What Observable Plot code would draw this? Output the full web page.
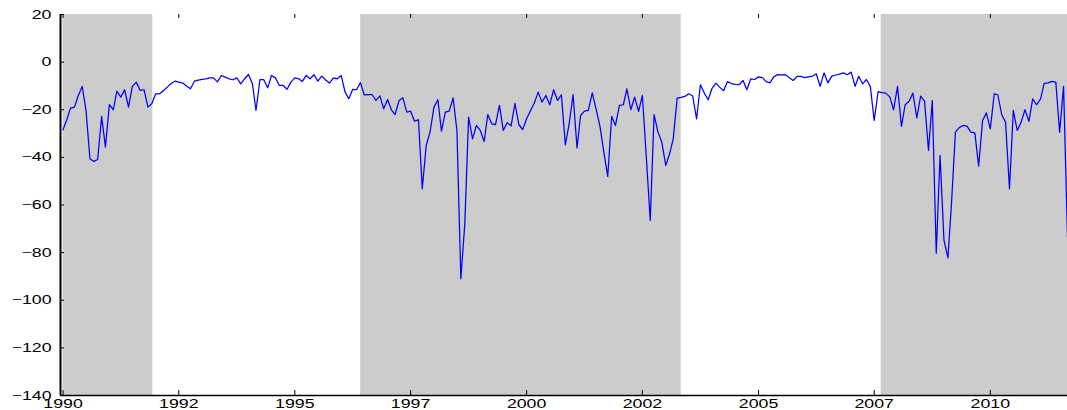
<!DOCTYPE html>
<html>
<head>
<meta charset="utf-8">
<script src="https://cdn.jsdelivr.net/npm/d3@7"></script>
<script src="https://cdn.jsdelivr.net/npm/@observablehq/plot@0.6"></script>
<style>
  html, body { margin: 0; padding: 0; background: #fff; }
  #chart svg { display: block; }
</style>
</head>
<body>
<div id="chart"></div>
<script>
// Monthly series, first value = January 1990
const firstMonth = "1990-01-01";
const values = [
  -28.4, -24.0, -19.3, -18.9, -14.0, -10.2, -20.3, -40.6, -41.7, -40.9,
  -22.8, -35.7, -17.8, -20.0, -12.2, -14.7, -11.6, -18.9, -10.2, -8.4,
  -11.9, -11.6, -18.9, -17.5, -13.3, -13.3, -12.0, -10.5, -9.0, -8.0,
  -8.4, -8.8, -10.1, -11.2, -8.0, -7.6, -7.2, -7.0, -6.6, -6.6,
  -8.3, -5.6, -6.3, -7.0, -7.4, -6.6, -9.1, -7.0, -5.2, -9.1,
  -20.3, -7.4, -7.4, -10.8, -5.6, -6.6, -9.8, -9.8, -11.4, -8.4,
  -6.6, -7.0, -8.1, -5.6, -7.0, -5.3, -8.0, -5.9, -7.5, -8.8,
  -6.6, -7.0, -5.6, -12.6, -15.4, -11.4, -11.6, -8.6, -13.8, -13.6,
  -13.6, -16.1, -14.2, -19.6, -15.7, -20.2, -22.0, -16.1, -15.0, -21.0,
  -20.6, -24.8, -24.2, -53.2, -35.0, -29.4, -18.9, -15.8, -29.0, -21.0,
  -20.6, -15.0, -28.7, -91.0, -67.9, -23.1, -32.2, -26.6, -28.7, -33.3,
  -22.0, -25.9, -26.2, -18.2, -28.7, -25.4, -26.8, -17.3, -26.3, -28.3,
  -23.8, -20.3, -17.3, -12.6, -16.8, -14.0, -17.9, -11.6, -16.1, -13.7,
  -34.7, -25.9, -13.6, -36.0, -22.4, -20.6, -20.3, -12.9, -19.6, -27.0,
  -38.0, -48.0, -22.8, -26.6, -18.2, -17.9, -11.2, -20.0, -14.7, -20.7,
  -14.0, -40.0, -66.5, -22.0, -29.4, -33.6, -43.4, -38.4, -32.2, -15.1,
  -14.8, -14.4, -13.3, -14.2, -23.8, -9.5, -13.0, -15.8, -11.0, -8.8,
  -10.5, -12.0, -8.2, -9.0, -9.3, -9.5, -7.7, -11.6, -7.0, -7.3,
  -6.2, -6.5, -8.2, -8.7, -6.2, -5.2, -5.4, -5.3, -6.6, -7.7,
  -6.0, -6.0, -6.5, -6.2, -5.9, -4.9, -10.2, -4.5, -8.7, -5.9,
  -5.4, -5.0, -4.5, -5.3, -4.2, -10.2, -5.9, -9.1, -7.3, -10.3,
  -24.5, -12.4, -12.8, -13.0, -14.6, -20.0, -10.2, -27.0, -17.9, -16.4,
  -13.0, -23.4, -14.3, -16.4, -37.1, -16.1, -80.3, -39.2, -74.9, -82.2,
  -59.5, -29.4, -27.5, -26.6, -26.9, -29.4, -29.7, -43.7, -24.5, -21.3,
  -28.0, -13.3, -13.7, -22.1, -25.2, -53.2, -20.3, -28.7, -25.2, -20.0,
  -24.9, -15.4, -17.9, -15.4, -8.9, -8.7, -8.1, -8.4, -29.4, -10.2,
  -73.5
];

// Shaded periods
const shadeStarts = ["1990-01-01", "1996-06-03", "2007-08-25"];
const shadeEnds   = ["1991-12-09", "2003-05-03", "2011-09-01"];

// Axes
const xDomain = ["1989-12-12", "2011-09-01"];
const xTickDates  = ["1990-01-01", "1992-07-01", "1995-01-01", "1997-07-01", "2000-01-01",
                     "2002-07-01", "2005-01-01", "2007-07-01", "2010-01-01"];
const xTickLabels = ["1990", "1992", "1995", "1997", "2000", "2002", "2005", "2007", "2010"];
const yTicks      = [20, 0, -20, -40, -60, -80, -100, -120, -140];
const yTickLabels = ["20", "0", "\u221220", "\u221240", "\u221260", "\u221280", "\u2212100", "\u2212120", "\u2212140"];

// Build tables
const start = new Date(firstMonth + "T00:00:00Z");
const series = values.map((v, i) => ({date: d3.utcMonth.offset(start, i), value: v}));
const shades = shadeStarts.map((s, i) => ({start: new Date(s + "T00:00:00Z"), end: new Date(shadeEnds[i] + "T00:00:00Z")}));
const xTicks = xTickDates.map(s => new Date(s + "T00:00:00Z"));
const xDom = xDomain.map(s => new Date(s + "T00:00:00Z"));
const yMin = d3.min(yTicks), yMax = d3.max(yTicks);

const W = 1067, H = 410, mL = 60, mR = 0, mT = 14, mB = 15;
const frameW = W - mL - mR, frameH = H - mT - mB;

const chart = Plot.plot({
  width: W,
  height: H,
  marginLeft: mL,
  marginRight: mR,
  marginTop: mT,
  marginBottom: mB,
  style: {fontFamily: "'Liberation Sans', Arial, Helvetica, sans-serif", color: "#000", background: "#fff", overflow: "visible"},
  x: {type: "utc", domain: xDom, label: null},
  y: {domain: [yMin, yMax], label: null},
  marks: [
    Plot.rect(shades, {x1: "start", x2: "end", y1: yMin, y2: yMax, fill: "#cccccc"}),
    Plot.line(series, {x: "date", y: "value", stroke: "#0000ff", strokeWidth: 1.25}),
    // inward ticks
    Plot.ruleX(xTicks, {x: d => d, insetTop: frameH - 5, stroke: "#000", strokeWidth: 1}),
    Plot.ruleX(xTicks, {x: d => d, insetBottom: frameH - 4, stroke: "#000", strokeWidth: 1}),
    Plot.ruleY(yTicks, {y: d => d, insetRight: frameW - 4, stroke: "#000", strokeWidth: 1}),
    // axis lines
    Plot.ruleX([xDom[0]], {x: d => d, stroke: "#000", strokeWidth: 2}),
    Plot.ruleY([yMin], {y: d => d, stroke: "#000", strokeWidth: 1.5}),
    // labels
    Plot.axisX({ticks: xTicks, tickSize: 0, tickPadding: 4, fontSize: 12.5, label: null,
                tickFormat: (d) => xTickLabels[xTicks.findIndex(t => +t === +d)]}),
    Plot.axisY({ticks: yTicks, tickSize: 0, tickPadding: 9, fontSize: 12.5, label: null,
                tickFormat: (d) => yTickLabels[yTicks.indexOf(d)]})
  ]
});

// Widen tick labels horizontally (the reference font is stretched)
d3.select(chart).selectAll('g[aria-label$="tick label"] text').each(function() {
  const el = d3.select(this);
  const t = el.attr("transform") || "";
  el.attr("transform", `${t} scale(1.42,1)`);
});

document.getElementById("chart").appendChild(chart);
</script>
</body>
</html>
